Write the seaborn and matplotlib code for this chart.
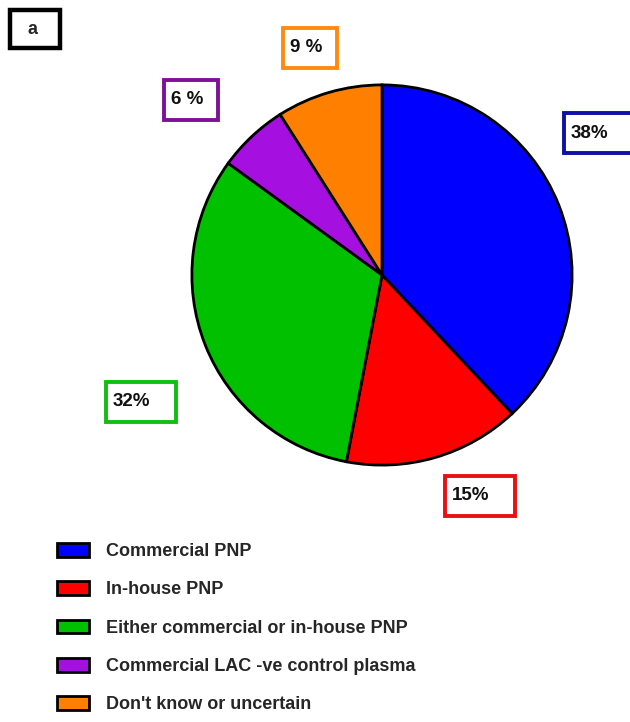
import matplotlib
matplotlib.use('Agg')
import matplotlib.pyplot as plt
from matplotlib.patches import Rectangle
import seaborn as sns

# Survey answers (share of respondents, %)
categories = ['Commercial PNP', 'In-house PNP', 'Either commercial or in-house PNP',
              'Commercial LAC -ve control plasma', "Don't know or uncertain"]
shares = [38, 15, 32, 6, 9]
pct_labels = ['38%', '15%', '32%', '6 %', '9 %']

wedge_colors = ['#0000FF', '#FF0000', '#00C000', '#A510E0', '#FF8000']
box_colors = ['#1010A8', '#E81010', '#10C010', '#80109A', '#FF8A10']
# label boxes in figure pixels: left, top, width, height
label_boxes = [(564, 113, 72, 40), (445, 476, 70, 40), (106, 382, 70, 40),
               (164, 80, 54, 40), (283, 28, 54, 40)]

sns.set_style('white')
plt.rcParams['font.family'] = ['Liberation Sans', 'DejaVu Sans']

W, H = 630, 722
fig = plt.figure(figsize=(W / 100, H / 100), dpi=100)


def px_rect(x, y, w, h, ec, lw):
    fig.add_artist(Rectangle((x / W, 1 - (y + h) / H), w / W, h / H, transform=fig.transFigure,
                             facecolor='white', edgecolor=ec, linewidth=lw))


# pie centred at (382, 275) px with radius 192 px
cx, cy, r = 382, 275, 192
ax = fig.add_axes([(cx - r) / W, (H - cy - r) / H, 2 * r / W, 2 * r / H])
wedges, _ = ax.pie(shares, colors=wedge_colors, startangle=90, counterclock=False,
                   radius=1, wedgeprops=dict(edgecolor='black', linewidth=2))
ax.set_xlim(-1.01, 1.01)
ax.set_ylim(-1.01, 1.01)
ax.set_aspect('equal')
ax.axis('off')

for lab, (bx, by, bw, bh), bc in zip(pct_labels, label_boxes, box_colors):
    px_rect(bx, by, bw, bh, bc, 2.8)
    fig.text((bx + 7) / W, 1 - (by + bh / 2) / H, lab, ha='left', va='center', fontsize=13.5,
             fontweight='bold', color='#111111')

# panel letter
px_rect(10, 10, 50, 38, 'black', 3.2)
fig.text(33 / W, 1 - 30 / H, 'a', ha='center', va='center', fontsize=13, fontweight='bold')

leg = fig.legend(wedges, categories, loc='upper left', bbox_to_anchor=(57 / W, 1 - 543 / H),
                 frameon=False, borderpad=0, borderaxespad=0, handlelength=1.75, handleheight=0.8,
                 handletextpad=0.95, labelspacing=1.17,
                 prop=dict(family='Liberation Sans', weight='bold', size=13))

fig.savefig('out.png', dpi=100)
